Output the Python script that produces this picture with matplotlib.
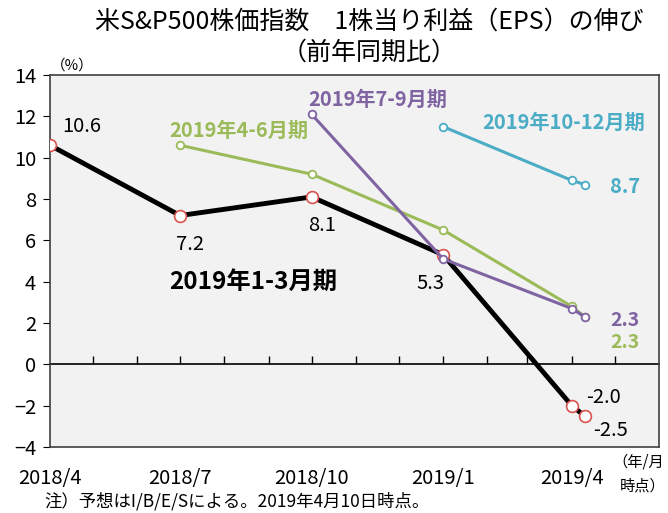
import datetime as dt
import matplotlib
matplotlib.use("Agg")
import matplotlib.pyplot as plt
import matplotlib.dates as mdates

plt.rcParams['font.family'] = ['Noto Sans CJK JP', 'DejaVu Sans']

# ---------------- data ----------------
d = dt.date
dates_q1 = [d(2018, 4, 1), d(2018, 7, 1), d(2018, 10, 1), d(2019, 1, 1), d(2019, 4, 1), d(2019, 4, 10)]
eps_q1 = [10.6, 7.2, 8.1, 5.3, -2.0, -2.5]

dates_q2 = [d(2018, 7, 1), d(2018, 10, 1), d(2019, 1, 1), d(2019, 4, 1), d(2019, 4, 10)]
eps_q2 = [10.6, 9.2, 6.5, 2.8, 2.3]

dates_q3 = [d(2018, 10, 1), d(2019, 1, 1), d(2019, 4, 1), d(2019, 4, 10)]
eps_q3 = [12.1, 5.1, 2.7, 2.3]

dates_q4 = [d(2019, 1, 1), d(2019, 4, 1), d(2019, 4, 10)]
eps_q4 = [11.5, 8.9, 8.7]

label_dates = [d(2018, 4, 1), d(2018, 7, 1), d(2018, 10, 1), d(2019, 1, 1), d(2019, 4, 1)]
label_texts = ['2018/4', '2018/7', '2018/10', '2019/1', '2019/4']
month_ticks = [d(2018 + (m - 1) // 12, (m - 1) % 12 + 1, 1) for m in range(5, 18)]

C_GREEN = '#9BBB59'
C_PURPLE = '#8064A2'
C_BLUE = '#4BACC6'
C_RED = '#D9534F'

# ---------------- figure ----------------
fig = plt.figure(figsize=(6.68, 5.13), dpi=100)
ax = fig.add_axes([0.0749, 0.1287, 0.9116, 0.7251])
ax.set_facecolor('#F2F2F2')

ax.plot(dates_q4, eps_q4, color=C_BLUE, lw=2.2, marker='o', ms=5.5,
        mfc='white', mec=C_BLUE, mew=1.3, zorder=3)
ax.plot(dates_q2, eps_q2, color=C_GREEN, lw=2.2, marker='o', ms=5.5,
        mfc='white', mec=C_GREEN, mew=1.3, zorder=3)
ax.plot(dates_q1, eps_q1, color='black', lw=3.5, marker='o', ms=8.5,
        mfc='white', mec=C_RED, mew=1.2, zorder=4)
ax.plot(dates_q3, eps_q3, color=C_PURPLE, lw=2.2, marker='o', ms=5.5,
        mfc='white', mec=C_PURPLE, mew=1.3, zorder=5)

ax.set_ylim(-4, 14)
ax.set_yticks(range(-4, 15, 2))
ax.set_xlim(mdates.date2num(d(2018, 4, 1)), mdates.date2num(d(2019, 6, 1)))
ax.set_xticks(mdates.date2num(label_dates))
ax.set_xticklabels(label_texts)
ax.tick_params(axis='x', length=0, pad=15, labelsize=14.5)
ax.tick_params(axis='y', direction='out', length=5, labelsize=14.5, pad=5)
for s in ax.spines.values():
    s.set_color('#404040')
    s.set_linewidth(1.2)

# zero line with monthly ticks pointing up
zero = ax.secondary_xaxis(4 / 18)
zero.set_xticks(mdates.date2num(month_ticks))
zero.tick_params(direction='in', length=6, width=1, labelbottom=False)
zero.spines['bottom'].set_linewidth(1.2)

# ---------------- annotations ----------------
num = dict(fontsize=14.5, ha='center', va='center')
ax.text(mdates.date2num(d(2018, 4, 23)), 11.5, '10.6', **num)
ax.text(mdates.date2num(d(2018, 7, 8)), 5.8, '7.2', **num)
ax.text(mdates.date2num(d(2018, 10, 8)), 6.7, '8.1', **num)
ax.text(mdates.date2num(d(2018, 12, 23)), 3.9, '5.3', **num)
ax.text(mdates.date2num(d(2019, 4, 23)), -1.6, '-2.0', **num)
ax.text(mdates.date2num(d(2019, 4, 28)), -3.2, '-2.5', **num)

ax.text(mdates.date2num(d(2018, 8, 21)), 4.0, '2019年1-3月期', fontsize=17.5,
        fontweight='bold', ha='center', va='center')
ax.text(mdates.date2num(d(2018, 8, 11)), 11.3, '2019年4-6月期', fontsize=14.5,
        fontweight='bold', color=C_GREEN, ha='center', va='center')
ax.text(mdates.date2num(d(2018, 11, 16)), 12.8, '2019年7-9月期', fontsize=14.5,
        fontweight='bold', color=C_PURPLE, ha='center', va='center')
ax.text(mdates.date2num(d(2019, 3, 26)), 11.7, '2019年10-12月期', fontsize=14.5,
        fontweight='bold', color=C_BLUE, ha='center', va='center')
ax.text(mdates.date2num(d(2019, 4, 28)), 8.6, '8.7', fontsize=14.5,
        fontweight='bold', color=C_BLUE, ha='left', va='center')
ax.text(mdates.date2num(d(2019, 4, 28)), 2.1, '2.3', fontsize=14,
        fontweight='bold', color=C_PURPLE, ha='left', va='center')
ax.text(mdates.date2num(d(2019, 4, 28)), 1.05, '2.3', fontsize=14,
        fontweight='bold', color=C_GREEN, ha='left', va='center')

fig.text(0.553, 0.957, '米S&P500株価指数　1株当り利益（EPS）の伸び', fontsize=18,
         ha='center', va='center')
fig.text(0.553, 0.897, '（前年同期比）', fontsize=18, ha='center', va='center')
fig.text(0.108, 0.872, '（%）', fontsize=10.5, ha='center', va='center')
fig.text(0.955, 0.100, '（年/月', fontsize=11, ha='center', va='center')
fig.text(0.962, 0.053, '時点）', fontsize=11, ha='center', va='center')
fig.text(0.066, 0.022, '注）予想はI/B/E/Sによる。2019年4月10日時点。', fontsize=12.5,
         ha='left', va='center')

fig.savefig('out.png', dpi=100)
